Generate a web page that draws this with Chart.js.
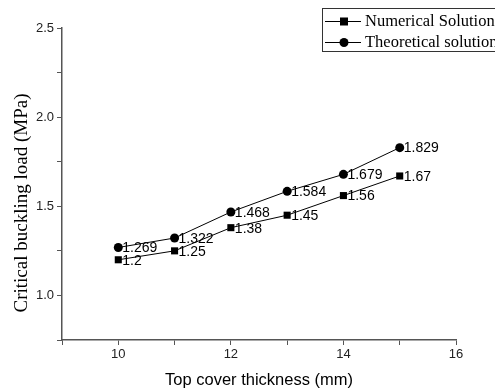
<!DOCTYPE html>
<html>
<head>
<meta charset="utf-8">
<script src="https://cdn.jsdelivr.net/npm/chart.js@4"></script>
<style>
  html, body { margin: 0; padding: 0; background: #fff; }
  #wrap { width: 495px; height: 391px; }
</style>
</head>
<body>
<div id="wrap"><canvas id="chart" width="495" height="391"></canvas></div>
<script>
// data
const thickness = [10, 11, 12, 13, 14, 15];
const numerical = [1.2, 1.25, 1.38, 1.45, 1.56, 1.67];
const theoretical = [1.269, 1.322, 1.468, 1.584, 1.679, 1.829];
const numLabels = ['1.2', '1.25', '1.38', '1.45', '1.56', '1.67'];
const theoLabels = ['1.269', '1.322', '1.468', '1.584', '1.679', '1.829'];

function toPoints(xs, ys) {
  const pts = [];
  for (let i = 0; i < xs.length; i++) {
    pts.push({ x: xs[i], y: ys[i] });
  }
  return pts;
}

// value labels next to each point
const pointLabels = {
  id: 'pointLabels',
  afterDatasetsDraw(chart) {
    const ctx = chart.ctx;
    ctx.save();
    ctx.font = '14px "Liberation Sans", Arial, sans-serif';
    ctx.fillStyle = '#000';
    ctx.textBaseline = 'middle';
    ctx.textAlign = 'left';
    chart.data.datasets.forEach((ds, di) => {
      const meta = chart.getDatasetMeta(di);
      meta.data.forEach((el, i) => {
        ctx.fillText(ds.valueLabels[i], el.x + 4, el.y + 1);
      });
    });
    ctx.restore();
  }
};

// axis titles, placed like the original
const axisTitles = {
  id: 'axisTitles',
  afterDraw(chart) {
    const ctx = chart.ctx;
    const area = chart.chartArea;
    ctx.save();
    ctx.fillStyle = '#000';
    ctx.textAlign = 'center';
    ctx.textBaseline = 'middle';
    ctx.font = '16.5px "Liberation Sans", Arial, sans-serif';
    ctx.fillText('Top cover thickness (mm)', (area.left + area.right) / 2, 380);
    ctx.translate(22, 203);
    ctx.rotate(-Math.PI / 2);
    ctx.font = '19px "Liberation Serif", "Times New Roman", serif';
    ctx.fillText('Critical buckling load (MPa)', 0, 0);
    ctx.restore();
  }
};

// boxed legend in the top right corner
const boxLegend = {
  id: 'boxLegend',
  afterDraw(chart) {
    const ctx = chart.ctx;
    const x0 = 322, y0 = 8, h = 43;
    ctx.save();
    ctx.fillStyle = '#fff';
    ctx.fillRect(x0, y0, 200, h);
    ctx.strokeStyle = '#333';
    ctx.lineWidth = 1;
    ctx.strokeRect(x0 + 0.5, y0 + 0.5, 200, h);
    ctx.font = '16.5px "Liberation Serif", "Times New Roman", serif';
    ctx.textBaseline = 'middle';
    chart.data.datasets.forEach((ds, i) => {
      const y = y0 + 13 + i * 21;
      ctx.strokeStyle = '#000';
      ctx.beginPath();
      ctx.moveTo(x0 + 3, y + 0.5);
      ctx.lineTo(x0 + 39, y + 0.5);
      ctx.stroke();
      ctx.fillStyle = '#000';
      if (ds.pointStyle === 'rect') {
        ctx.fillRect(x0 + 18, y - 3.5, 8, 8);
      } else {
        ctx.beginPath();
        ctx.arc(x0 + 22, y + 0.5, 4.5, 0, Math.PI * 2);
        ctx.fill();
      }
      ctx.fillText(ds.label, x0 + 43, y + 1);
    });
    ctx.restore();
  }
};

const config = {
  type: 'line',
  data: {
    datasets: [{
      label: 'Numerical Solution',
      data: toPoints(thickness, numerical),
      valueLabels: numLabels,
      borderColor: '#000',
      backgroundColor: '#000',
      borderWidth: 1,
      pointStyle: 'rect',
      pointRadius: 5,
      pointBorderWidth: 0,
      tension: 0
    }, {
      label: 'Theoretical solution',
      data: toPoints(thickness, theoretical),
      valueLabels: theoLabels,
      borderColor: '#000',
      backgroundColor: '#000',
      borderWidth: 1,
      pointStyle: 'circle',
      pointRadius: 4.5,
      pointBorderWidth: 0,
      tension: 0
    }]
  },
  options: {
    responsive: false,
    animation: false,
    layout: { padding: { top: 28, right: 39, left: 0, bottom: 0 } },
    plugins: {
      legend: { display: false },
      tooltip: { enabled: false }
    },
    scales: {
      x: {
        type: 'linear',
        min: 9,
        max: 16,
        afterFit: (s) => { s.height = 51; },
        ticks: {
          stepSize: 1,
          autoSkip: false,
          maxRotation: 0,
          padding: 2,
          color: '#222',
          font: { family: '"Liberation Sans", Arial, sans-serif', size: 13 },
          callback: (v) => (v % 2 === 0 ? String(v) : '')
        },
        grid: { drawOnChartArea: false, tickLength: 5, color: '#555' },
        border: { color: '#555', width: 1.5 }
      },
      y: {
        min: 0.75,
        max: 2.5,
        afterFit: (s) => { s.width = 62; },
        ticks: {
          stepSize: 0.25,
          autoSkip: false,
          padding: 3,
          color: '#222',
          font: { family: '"Liberation Sans", Arial, sans-serif', size: 13 },
          callback: (v) => (Math.abs(v * 2 - Math.round(v * 2)) < 1e-6 ? v.toFixed(1) : '')
        },
        grid: { drawOnChartArea: false, tickLength: 5, color: '#555' },
        border: { color: '#555', width: 1.5 }
      }
    }
  },
  plugins: [pointLabels, axisTitles, boxLegend]
};

new Chart(document.getElementById('chart'), config);
</script>
</body>
</html>
